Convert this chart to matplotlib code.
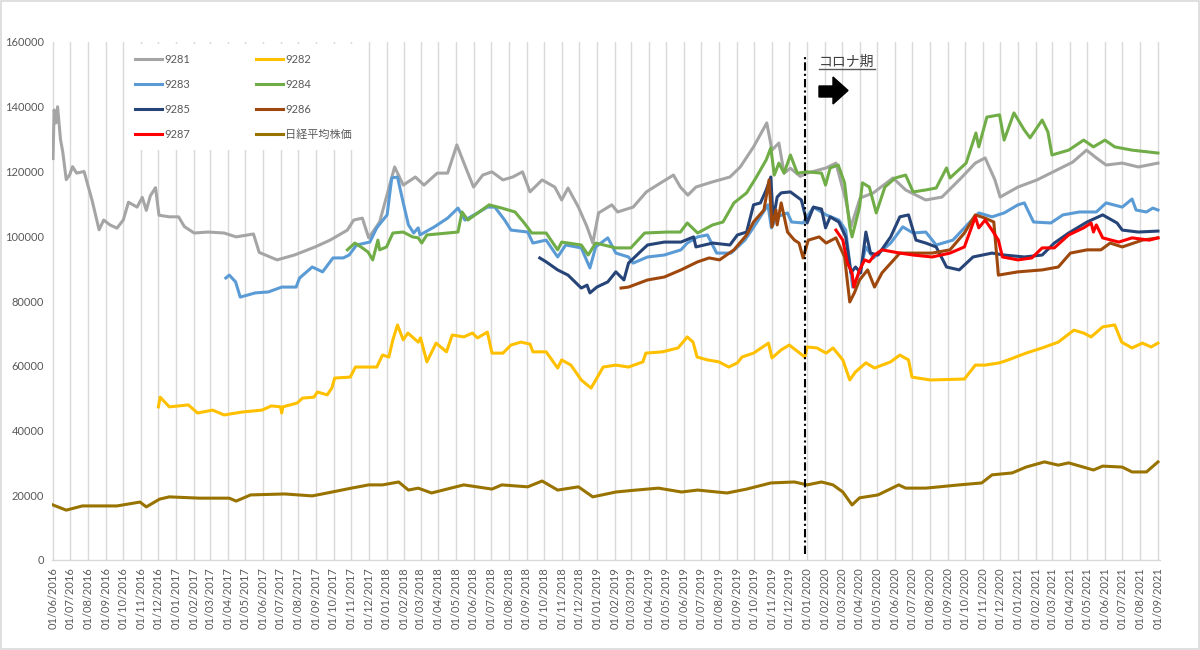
import matplotlib
matplotlib.use("Agg")
import matplotlib.pyplot as plt
import matplotlib.dates as mdates
from matplotlib.patches import Polygon, Rectangle
from matplotlib.lines import Line2D
import pandas as pd

plt.rcParams['font.family'] = ['Lato', 'Noto Sans CJK JP', 'DejaVu Sans']

# ---------------- data ----------------
s9281 = [("2016-06-01",124000),("2016-06-03",139000),("2016-06-06",135000),("2016-06-09",140000),
 ("2016-06-14",130000),("2016-06-18",126000),("2016-06-24",117500),("2016-06-30",119000),
 ("2016-07-05",121500),("2016-07-12",119500),("2016-07-25",120000),("2016-08-08",111000),
 ("2016-08-20",102000),("2016-08-28",105000),("2016-09-08",103500),("2016-09-20",102500),
 ("2016-10-01",105000),("2016-10-10",110500),("2016-10-25",109000),("2016-11-03",112000),
 ("2016-11-10",108000),("2016-11-17",112500),("2016-11-26",115000),("2016-12-02",106500),
 ("2016-12-20",106000),("2017-01-05",106000),("2017-01-15",103000),("2017-02-01",101000),
 ("2017-02-25",101300),("2017-03-25",101000),("2017-04-15",99800),("2017-05-15",100700),
 ("2017-05-25",95000),("2017-06-25",92700),("2017-07-25",94200),("2017-08-30",96700),
 ("2017-09-25",98800),("2017-10-25",101900),("2017-11-05",105000),("2017-11-20",105600),
 ("2017-12-01",99500),("2017-12-20",104400),("2018-01-15",121400),("2018-01-30",115800),
 ("2018-02-20",118300),("2018-03-07",115800),("2018-03-30",119500),("2018-04-17",119500),
 ("2018-05-03",128200),("2018-05-18",121400),("2018-06-01",115200),("2018-06-17",118900),
 ("2018-07-03",119900),("2018-07-22",117400),("2018-08-08",118300),("2018-08-25",119900),
 ("2018-09-07",113700),("2018-09-28",117400),("2018-10-20",115200),("2018-11-01",111200),
 ("2018-11-12",114900),("2018-11-30",109000),("2018-12-15",102900),("2018-12-25",97900),
 ("2019-01-04",107200),("2019-01-27",109700),("2019-02-06",107500),("2019-03-05",109000),
 ("2019-03-28",113700),("2019-04-22",116500),("2019-05-14",118900),("2019-05-26",115200),
 ("2019-06-08",112700),("2019-06-22",115200),("2019-07-21",116800),("2019-08-20",118300),
 ("2019-09-07",121400),("2019-09-30",127600),("2019-10-23",135000),("2019-11-01",126600),
 ("2019-11-13",128800),("2019-11-22",119500),("2019-12-03",121000),("2019-12-20",118500),
 ("2020-01-01",119500),("2020-02-03",121100),("2020-02-20",122600),("2020-03-08",111200),
 ("2020-03-17",102900),("2020-04-02",111800),("2020-04-25",113400),("2020-05-29",118000),
 ("2020-06-20",114300),("2020-07-25",111200),("2020-08-22",112100),("2020-09-21",117400),
 ("2020-10-19",122600),("2020-11-05",124200),("2020-11-22",117400),("2020-12-01",112100),
 ("2021-01-01",115200),("2021-02-03",117400),("2021-03-10",120500),("2021-04-06",122900),
 ("2021-04-30",126600),("2021-05-17",124200),("2021-06-03",122000),("2021-07-01",122600),
 ("2021-07-29",121400),("2021-09-01",122600)]

s9282 = [("2016-12-01",47300),("2016-12-04",50300),("2016-12-20",47300),("2017-01-22",47900),
 ("2017-02-07",45400),("2017-03-05",46300),("2017-03-25",44800),("2017-04-25",45700),
 ("2017-05-30",46300),("2017-06-15",47600),("2017-07-01",47300),("2017-07-03",45400),
 ("2017-07-05",47300),("2017-07-30",48500),("2017-08-08",50000),("2017-08-28",50300),
 ("2017-09-03",51900),("2017-09-20",51000),("2017-09-28",53100),("2017-10-03",56200),
 ("2017-10-30",56500),("2017-11-08",59600),("2017-12-15",59600),("2017-12-25",63300),
 ("2018-01-05",62700),("2018-01-12",68000),("2018-01-20",72600),("2018-01-30",68000),
 ("2018-02-07",70100),("2018-02-25",67300),("2018-03-01",68600),("2018-03-12",61200),
 ("2018-03-28",67000),("2018-04-15",64300),("2018-04-25",69500),("2018-05-15",68900),
 ("2018-05-30",70100),("2018-06-08",68600),("2018-06-25",70400),("2018-07-03",63900),
 ("2018-07-22",63900),("2018-08-05",66400),("2018-08-22",67300),("2018-09-07",66700),
 ("2018-09-12",64300),("2018-10-05",64300),("2018-10-25",59300),("2018-11-01",61800),
 ("2018-11-17",60200),("2018-12-05",55600),("2018-12-22",53100),("2019-01-04",57100),
 ("2019-01-12",59600),("2019-02-03",60200),("2019-02-25",59600),("2019-03-22",61200),
 ("2019-03-27",63900),("2019-04-25",64300),("2019-05-22",65500),("2019-06-07",68900),
 ("2019-06-17",67300),("2019-06-24",62700),("2019-07-12",61800),("2019-08-01",61200),
 ("2019-08-18",59600),("2019-09-02",60900),("2019-09-10",62700),("2019-09-30",63900),
 ("2019-10-26",67000),("2019-11-01",62400),("2019-11-17",64900),("2019-12-01",66400),
 ("2019-12-28",62700),("2020-01-01",65800),("2020-01-18",65500),("2020-02-03",63900),
 ("2020-02-15",65500),("2020-03-03",61800),("2020-03-15",55600),("2020-03-25",58100),
 ("2020-04-12",60900),("2020-04-27",59300),("2020-05-25",61200),("2020-06-10",63300),
 ("2020-06-25",61800),("2020-07-01",56500),("2020-08-02",55600),("2020-09-30",55900),
 ("2020-10-19",60200),("2020-11-05",60200),("2020-11-30",60900),("2020-12-15",61800),
 ("2021-01-15",63900),("2021-02-12",65500),("2021-03-12",67300),("2021-04-08",71000),
 ("2021-04-25",70100),("2021-05-08",68900),("2021-05-28",72000),("2021-06-18",72600),
 ("2021-06-30",67300),("2021-07-18",65500),("2021-08-05",67000),("2021-08-20",65800),
 ("2021-09-01",67000)]

s9283 = [("2017-03-28",87100),("2017-04-03",88000),("2017-04-14",85900),("2017-04-22",81200),
 ("2017-05-18",82500),("2017-06-10",82800),("2017-07-03",84300),("2017-07-28",84300),
 ("2017-08-03",87100),("2017-08-25",90500),("2017-09-12",89000),("2017-09-30",93300),
 ("2017-10-18",93300),("2017-10-28",94200),("2017-11-10",97300),("2017-12-03",98200),
 ("2017-12-15",102600),("2018-01-02",106600),("2018-01-10",118000),("2018-01-20",118300),
 ("2018-01-30",110300),("2018-02-08",103500),("2018-02-17",101000),("2018-02-25",102600),
 ("2018-02-28",100400),("2018-03-25",102900),("2018-04-17",105600),("2018-05-05",108700),
 ("2018-05-17",105000),("2018-06-08",107200),("2018-06-25",109000),("2018-07-08",109000),
 ("2018-07-25",105000),("2018-08-05",101900),("2018-09-03",101300),("2018-09-12",97900),
 ("2018-10-05",98800),("2018-10-25",93600),("2018-11-08",97300),("2018-12-05",96400),
 ("2018-12-20",90200),("2018-12-30",96700),("2019-01-20",99500),("2019-02-03",94800),
 ("2019-02-25",93600),("2019-03-05",91700),("2019-03-30",93600),("2019-04-28",94200),
 ("2019-05-27",95800),("2019-06-07",97900),("2019-06-25",99800),("2019-07-12",100400),
 ("2019-07-28",94800),("2019-08-22",94800),("2019-09-15",98800),("2019-10-05",104100),
 ("2019-10-25",109700),("2019-10-31",102600),("2019-11-10",106000),("2019-11-28",107200),
 ("2019-12-05",104400),("2019-12-25",104100),("2020-01-12",109000),("2020-02-03",106600),
 ("2020-02-25",105000),("2020-03-08",101900),("2020-03-20",84300),("2020-04-01",88700),
 ("2020-04-12",96700),("2020-04-25",93300),("2020-05-25",97900),("2020-06-15",102900),
 ("2020-07-03",101000),("2020-07-25",101300),("2020-08-12",97300),("2020-09-10",98800),
 ("2020-10-08",104100),("2020-10-25",107200),("2020-11-17",106000),("2020-12-08",107200),
 ("2021-01-01",109700),("2021-01-12",110300),("2021-01-28",104400),("2021-02-27",104100),
 ("2021-03-20",106600),("2021-04-18",107500),("2021-05-17",107500),("2021-06-03",110300),
 ("2021-07-01",109000),("2021-07-18",111500),("2021-07-25",108100),("2021-08-12",107500),
 ("2021-08-23",108700),("2021-09-01",108100)]

s9284 = [("2017-10-25",95800),("2017-11-07",97900),("2017-11-20",96400),("2017-11-30",95100),
 ("2017-12-08",92700),("2017-12-17",98800),("2017-12-20",95800),("2018-01-01",96700),
 ("2018-01-12",101000),("2018-01-30",101300),("2018-02-15",99800),("2018-02-25",99500),
 ("2018-03-03",97900),("2018-03-12",100400),("2018-05-05",101300),("2018-05-12",107500),
 ("2018-05-22",105000),("2018-06-28",109700),("2018-07-20",108700),("2018-08-12",107500),
 ("2018-08-28",104100),("2018-09-10",101000),("2018-10-05",101000),("2018-10-25",95800),
 ("2018-11-01",98200),("2018-12-05",97300),("2018-12-17",94200),("2018-12-30",97900),
 ("2019-02-03",96400),("2019-03-01",96400),("2019-03-25",101000),("2019-05-03",101300),
 ("2019-05-26",101300),("2019-06-07",104100),("2019-06-25",101000),("2019-07-21",103500),
 ("2019-08-08",104400),("2019-08-27",110300),("2019-09-18",113400),("2019-10-05",118300),
 ("2019-10-22",123600),("2019-10-30",127300),("2019-11-05",118900),("2019-11-13",122600),
 ("2019-11-22",119500),("2019-12-03",125100),("2019-12-15",119500),("2020-01-01",119900),
 ("2020-01-26",119500),("2020-02-02",115800),("2020-02-10",121100),("2020-02-24",122000),
 ("2020-03-06",116500),("2020-03-15",102900),("2020-03-19",99800),("2020-04-01",109000),
 ("2020-04-06",116500),("2020-04-18",115200),("2020-04-30",107200),("2020-05-15",115200),
 ("2020-06-02",118000),("2020-06-20",118900),("2020-07-03",113700),("2020-07-25",114300),
 ("2020-08-12",114900),("2020-08-30",121100),("2020-09-05",118000),("2020-10-03",122600),
 ("2020-10-20",131900),("2020-10-25",127600),("2020-11-08",136800),("2020-11-30",137500),
 ("2020-12-08",129700),("2020-12-25",138100),("2021-01-12",132800),("2021-01-22",130400),
 ("2021-02-12",135900),("2021-02-22",132200),("2021-03-01",125100),("2021-03-30",126600),
 ("2021-04-25",129700),("2021-05-12",127600),("2021-06-01",129700),("2021-06-18",127600),
 ("2021-07-18",126600),("2021-09-01",125700)]

s9285 = [("2018-09-24",93300),("2018-10-05",92100),("2018-10-25",89600),("2018-11-12",88000),
 ("2018-12-05",84000),("2018-12-15",84900),("2018-12-20",82500),("2019-01-01",84300),
 ("2019-01-20",85900),("2019-02-03",89000),("2019-02-17",86500),("2019-02-25",91700),
 ("2019-03-15",94800),("2019-03-30",97300),("2019-04-28",98200),("2019-05-27",98200),
 ("2019-06-18",99800),("2019-06-22",96700),("2019-07-21",97900),("2019-08-20",97300),
 ("2019-09-02",100400),("2019-09-18",101300),("2019-09-30",109700),("2019-10-12",110300),
 ("2019-10-22",114300),("2019-10-30",118300),("2019-11-03",105000),("2019-11-10",112100),
 ("2019-11-17",113400),("2019-12-03",113700),("2019-12-22",111200),("2020-01-01",104100),
 ("2020-01-12",109000),("2020-01-26",108400),("2020-02-02",102600),("2020-02-10",106000),
 ("2020-02-25",104400),("2020-03-08",99800),("2020-03-17",88700),("2020-03-25",90500),
 ("2020-04-03",88700),("2020-04-12",101300),("2020-04-20",94800),("2020-05-03",94200),
 ("2020-05-25",99800),("2020-06-10",106000),("2020-06-25",106600),("2020-07-08",98800),
 ("2020-07-25",97900),("2020-08-12",96700),("2020-08-30",90500),("2020-09-21",89600),
 ("2020-10-15",93600),("2020-11-17",94800),("2020-12-08",94200),("2021-01-12",93600),
 ("2021-02-12",94200),("2021-03-05",97900),("2021-03-30",101000),("2021-05-01",104400),
 ("2021-05-28",106600),("2021-06-22",104100),("2021-07-01",101900),("2021-07-29",101300),
 ("2021-09-01",101600)]

s9286 = [("2019-02-12",84000),("2019-02-25",84300),("2019-03-30",86500),("2019-04-28",87400),
 ("2019-05-27",89600),("2019-06-25",92100),("2019-07-15",93300),("2019-08-02",92700),
 ("2019-08-27",95800),("2019-09-18",100400),("2019-09-30",104400),("2019-10-18",108100),
 ("2019-10-27",117400),("2019-11-01",102900),("2019-11-08",108100),("2019-11-10",103500),
 ("2019-11-17",110300),("2019-11-28",101300),("2019-12-10",98800),("2019-12-18",97900),
 ("2019-12-25",93300),("2020-01-03",98800),("2020-01-22",99800),("2020-02-03",97900),
 ("2020-02-20",99500),("2020-03-06",93600),("2020-03-15",79700),("2020-03-23",82500),
 ("2020-04-01",86500),("2020-04-15",89600),("2020-04-27",84300),("2020-05-10",88700),
 ("2020-06-10",94800),("2020-07-08",94800),("2020-08-05",94800),("2020-09-05",95800),
 ("2020-09-30",101000),("2020-10-19",106600),("2020-11-05",105600),("2020-11-20",104400),
 ("2020-11-28",88000),("2021-01-01",89000),("2021-02-12",89600),("2021-03-12",90500),
 ("2021-04-02",94800),("2021-05-01",95800),("2021-05-25",95800),("2021-06-10",97900),
 ("2021-07-01",96700),("2021-08-05",98800),("2021-09-01",99500)]

s9287 = [("2020-02-20",101900),("2020-03-03",98800),("2020-03-11",91700),("2020-03-19",88700),
 ("2020-03-22",84300),("2020-04-01",89600),("2020-04-10",92700),("2020-04-18",92100),
 ("2020-04-27",94200),("2020-05-10",95800),("2020-06-10",94800),("2020-07-03",94200),
 ("2020-08-05",93600),("2020-09-05",94800),("2020-09-30",96700),("2020-10-19",106000),
 ("2020-10-25",102600),("2020-11-05",105000),("2020-11-17",101900),("2020-11-28",98800),
 ("2020-12-05",93600),("2021-01-01",92700),("2021-01-25",93300),("2021-02-12",96400),
 ("2021-03-05",96400),("2021-03-30",100400),("2021-04-25",102600),("2021-05-08",104100),
 ("2021-05-12",101300),("2021-05-17",103500),("2021-05-28",99500),("2021-06-25",98200),
 ("2021-07-18",99500),("2021-08-17",98800),("2021-09-01",99500)]

nikkei = [("2016-06-01",17000),("2016-06-24",15400),("2016-07-22",16700),("2016-09-20",16700),
 ("2016-10-30",17900),("2016-11-10",16400),("2016-12-03",18800),("2016-12-20",19500),
 ("2017-02-10",19100),("2017-04-03",19100),("2017-04-15",18200),("2017-05-10",20100),
 ("2017-07-08",20400),("2017-08-25",19800),("2017-09-20",20700),("2017-11-01",22200),
 ("2017-12-01",23200),("2017-12-25",23200),("2018-01-22",24100),("2018-02-08",21600),
 ("2018-02-25",22200),("2018-03-20",20700),("2018-05-15",23200),("2018-07-03",21900),
 ("2018-07-20",23200),("2018-09-03",22600),("2018-09-28",24400),("2018-10-25",21600),
 ("2018-11-30",22600),("2018-12-25",19500),("2019-02-03",21000),("2019-03-10",21600),
 ("2019-04-18",22200),("2019-05-28",21000),("2019-06-25",21600),("2019-08-15",20700),
 ("2019-09-18",21900),("2019-10-30",23800),("2019-12-10",24100),("2020-01-01",23200),
 ("2020-01-26",24100),("2020-02-15",23200),("2020-03-03",21000),("2020-03-19",17000),
 ("2020-04-01",19200),("2020-05-03",20100),("2020-06-08",23200),("2020-06-20",22200),
 ("2020-07-25",22200),("2020-09-21",23200),("2020-10-30",23800),("2020-11-17",26300),
 ("2020-12-22",26900),("2021-01-15",28700),("2021-02-16",30300),("2021-03-12",29300),
 ("2021-03-30",30000),("2021-05-12",27800),("2021-05-28",29000),("2021-07-01",28700),
 ("2021-07-18",27200),("2021-08-12",27200),("2021-09-01",30300)]

series_labels = ["9281", "9282", "9283", "9284", "9285", "9286", "9287", "日経平均株価"]
series_data = [s9281, s9282, s9283, s9284, s9285, s9286, s9287, nikkei]
series_colors = ["#A5A5A5", "#FFC000", "#5B9BD5", "#70AD47", "#264478", "#9E480E", "#FF0000", "#997300"]

y_ticks = list(range(0, 160001, 20000))
corona_start = "2019-12-28"
corona_label = "コロナ期"

# ---------------- figure ----------------
W, H = 1200, 650
fig = plt.figure(figsize=(W / 100, H / 100), dpi=100)
fig.patches.append(Rectangle((0.0008, 0.0012), 0.9984, 0.9976, transform=fig.transFigure,
                             fill=False, edgecolor="#D9D9D9", lw=1.2))

ax = fig.add_axes([52.4 / W, 1 - 560 / H, 1107.3 / W, 518 / H])

lines = {}
for lab, data, col in zip(series_labels, series_data, series_colors):
    d = pd.to_datetime([p[0] for p in data])
    v = [p[1] for p in data]
    ln, = ax.plot(d, v, color=col, lw=2.2, solid_joinstyle="round", label=lab, zorder=3)
    lines[lab] = ln

ax.set_xlim(pd.Timestamp("2016-05-31"), pd.Timestamp("2021-09-04"))
ax.set_ylim(0, 160000)
ax.set_yticks(y_ticks)
ax.set_yticklabels([str(t) for t in y_ticks])

ax.xaxis.set_major_locator(mdates.MonthLocator(bymonthday=1))
ax.xaxis.set_major_formatter(mdates.DateFormatter("%d/%m/%Y"))
ax.tick_params(axis="x", rotation=90, length=0, pad=5, labelsize=8, labelcolor="#595959")
ax.tick_params(axis="y", length=0, pad=6, labelsize=8, labelcolor="#595959")

ax.grid(axis="x", color="#D9D9D9", lw=1)
ax.set_axisbelow(True)
for s in ["top", "right", "left"]:
    ax.spines[s].set_visible(False)
ax.spines["bottom"].set_color("#D9D9D9")
ax.spines["bottom"].set_linewidth(1)

# corona start line
ax.axvline(pd.Timestamp(corona_start), ymin=0.012, ymax=0.975, color="black", lw=1.5,
           ls=(0, (4, 1.5, 1, 1.5)), zorder=4)

# legend (two columns, row-wise order like the reference)
order = ["9281", "9283", "9285", "9287", "9282", "9284", "9286", "日経平均株価"]
leg = ax.legend([lines[k] for k in order], order, ncol=2, loc="upper left",
                bbox_to_anchor=((125 - 52.4) / 1107.3, (560 - 44) / 518),
                borderaxespad=0, frameon=True, facecolor="white", edgecolor="none",
                framealpha=1, fancybox=False, fontsize=8, handlelength=2.4,
                handletextpad=0.2, columnspacing=6.0, labelspacing=1.25, borderpad=0.9)
for t in leg.get_texts():
    t.set_color("#595959")
leg.set_zorder(5)

# annotation text with underline and block arrow
def px(x, y):
    return (x / W, 1 - y / H)

txt = fig.text(*px(819, 61), corona_label, fontsize=10, color="#404040",
               ha="left", va="center")
fig.canvas.draw()
bb = txt.get_window_extent()
fig.lines.append(Line2D([bb.x0 / W, bb.x1 / W], [(bb.y0 - 1) / H, (bb.y0 - 1) / H],
                        transform=fig.transFigure, color="#595959", lw=1))

arrow_px = [(819, 86), (833, 86), (833, 77), (848, 90.5), (833, 104), (833, 97), (819, 97)]
fig.patches.append(Polygon([px(x, y) for x, y in arrow_px], closed=True,
                           transform=fig.transFigure, facecolor="black", edgecolor="black"))

fig.savefig("out.png", dpi=100)
